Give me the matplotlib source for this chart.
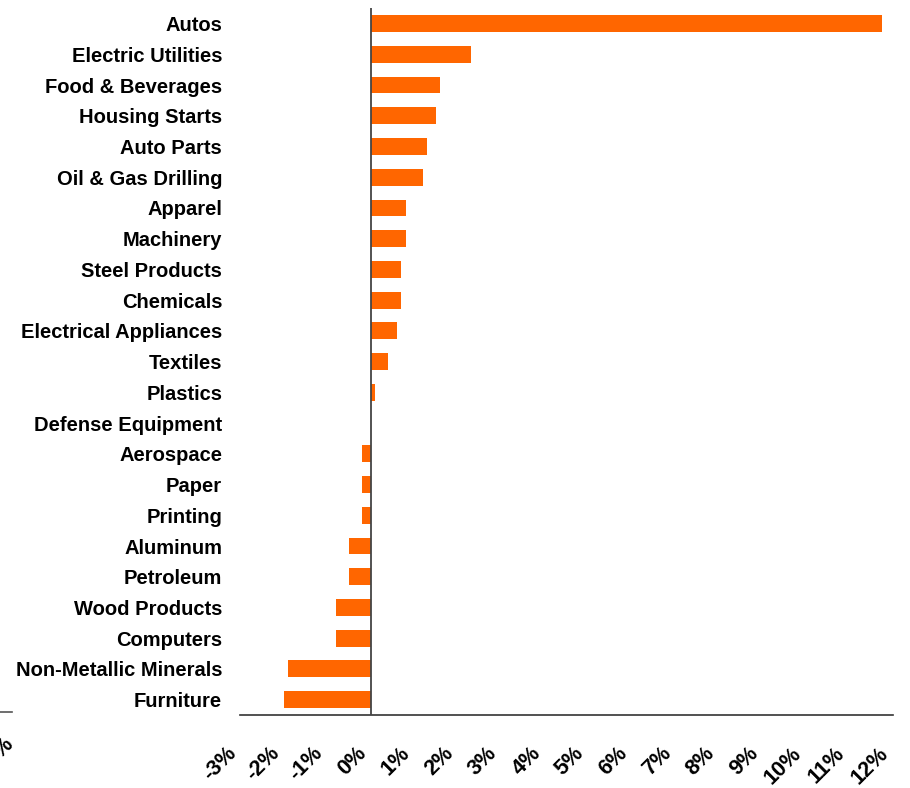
import matplotlib.pyplot as plt
from matplotlib.lines import Line2D

plt.rcParams['font.family'] = ['Liberation Sans', 'DejaVu Sans']

categories = ['Autos', 'Electric Utilities', 'Food & Beverages', 'Housing Starts',
              'Auto Parts', 'Oil & Gas Drilling', 'Apparel', 'Machinery',
              'Steel Products', 'Chemicals', 'Electrical Appliances', 'Textiles',
              'Plastics', 'Defense Equipment', 'Aerospace', 'Paper', 'Printing',
              'Aluminum', 'Petroleum', 'Wood Products', 'Computers',
              'Non-Metallic Minerals', 'Furniture']
values = [11.75, 2.3, 1.6, 1.5, 1.3, 1.2, 0.8, 0.8, 0.7, 0.7, 0.6, 0.4,
          0.1, 0.0, -0.2, -0.2, -0.2, -0.5, -0.5, -0.8, -0.8, -1.9, -2.0]
xticks = list(range(-3, 13))
xtick_labels = [f'{t}%' for t in xticks]

fig = plt.figure(figsize=(9.1, 7.88), dpi=100)
ax = fig.add_axes([0.264, 0.0926, 0.717, 0.897])

ypos = list(range(len(categories)))
ax.barh(ypos, values, height=0.55, color='#ff6600', zorder=2)
ax.axvline(0, color='#444444', linewidth=1.3, zorder=3)

ax.set_ylim(len(categories) - 0.5, -0.5)
ax.set_xlim(-3, 12)
ax.set_yticks(ypos)
ax.set_yticklabels(categories, fontsize=14.5, fontweight='bold')
ax.set_xticks(xticks)
ax.set_xticklabels(xtick_labels, fontsize=15.5, fontweight='bold',
                   rotation=45, ha='right', va='top')
ax.tick_params(axis='y', length=0, pad=13)
ax.tick_params(axis='x', length=0, pad=20)

for s in ['top', 'right', 'left']:
    ax.spines[s].set_visible(False)
ax.spines['bottom'].set_color('#333333')
ax.spines['bottom'].set_linewidth(1.2)

# cut-off piece of a neighbouring chart at the left edge
fig.add_artist(Line2D([0, 12 / 910], [1 - 712 / 788, 1 - 712 / 788],
                      color='#555555', linewidth=1.2))
fig.text(-0.012, 1 - 748 / 788, '%', rotation=45, fontsize=15.5,
         fontweight='bold', ha='left', va='center')

fig.savefig('out.png', dpi=100)
